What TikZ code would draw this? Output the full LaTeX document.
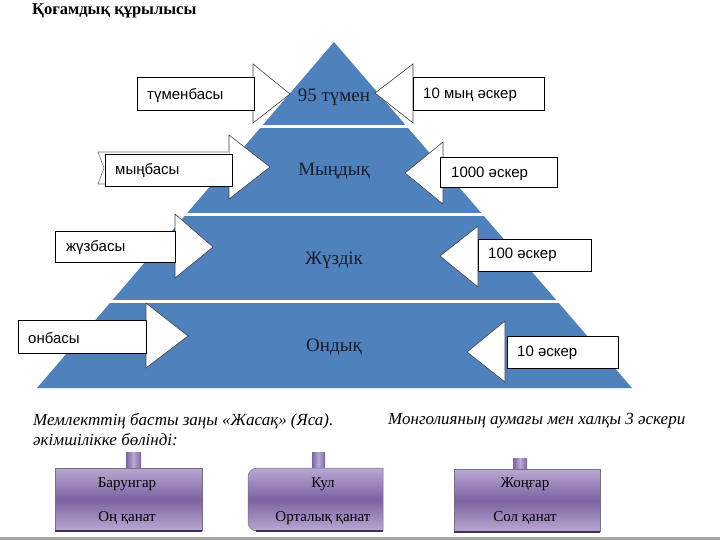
\documentclass[tikz,border=0pt]{standalone}
\usepackage{fontspec}
\setmainfont{Liberation Serif}
\newfontfamily\arialf{Liberation Sans}
\definecolor{pyr}{HTML}{4F81BD}
\definecolor{plight}{HTML}{B9A9D2}
\definecolor{pdark}{HTML}{7D62A2}
\definecolor{pedge}{HTML}{3F3151}
\definecolor{lbl}{HTML}{1C1C28}
\tikzset{
  calloutbox/.style={draw=black, line width=0.7pt, fill=white, inner sep=0pt},
  calltext/.style={anchor=west, inner sep=0pt, yshift=-2pt, font=\arialf\fontsize{15}{17}\selectfont},
  headshape/.style={draw=black!75, line width=0.6pt, fill=white},
  bandlabel/.style={font=\fontsize{19}{21}\selectfont, text=lbl, inner sep=0pt},
  boxtext/.style={font=\fontsize{15}{17}\selectfont, text=black, inner sep=0pt},
  italtext/.style={font=\itshape\fontsize{17}{19}\selectfont, inner sep=0pt, anchor=west},
  purplebox/.style={top color=plight, bottom color=plight, middle color=pdark},
  tabshade/.style={left color=pdark, right color=pdark, middle color=plight}
}
\begin{document}
\begin{tikzpicture}[x=1pt,y=-1pt]
\useasboundingbox (0,0) rectangle (720,540);
\fill[white] (0,0) rectangle (720,540);
% title
\node[font=\bfseries\fontsize{16.5}{19}\selectfont, anchor=west, inner sep=0pt] (title) at (32,11) {Қоғамдық құрылысы};
% pyramid
\fill[pyr] (334,42) -- (632,388) -- (37,388) -- cycle;
\fill[white] (0,125) rectangle (720,128);
\fill[white] (0,213) rectangle (720,216);
\fill[white] (0,300) rectangle (720,303);
\node[bandlabel] (b1) at (334,97) {95 түмен};
\node[bandlabel] (b2) at (334,171) {Мыңдық};
\node[bandlabel] (b3) at (334,260) {Жүздік};
\node[bandlabel] (b4) at (334,347) {Ондық};
% left arrowheads
\draw[headshape] (253,64) -- (290,94) -- (253,123) -- cycle;
\draw[headshape] (229,135) -- (270,167) -- (229,199) -- cycle;
\draw[headshape] (175,214) -- (213,247) -- (175,278) -- cycle;
\draw[headshape] (146,303) -- (188,336) -- (146,368) -- cycle;
% right arrowheads
\draw[headshape] (413,64) -- (375,93) -- (413,123) -- cycle;
\draw[headshape] (443,142) -- (405,173) -- (443,204) -- cycle;
\draw[headshape] (478,226) -- (440,256) -- (478,287) -- cycle;
\draw[headshape] (505,321) -- (467,352) -- (505,382) -- cycle;
% arrow tail behind the second box
\draw[black!55, line width=0.6pt, fill=white] (229,152) -- (98,152) -- (104,168) -- (98,184) -- (229,184);
% left boxes
\node[calloutbox, minimum width=117pt, minimum height=33pt, anchor=north west] (l1) at (137,77) {};
\node[calltext] (l1t) at (147,94) {түменбасы};
\node[calloutbox, minimum width=127pt, minimum height=32pt, anchor=north west] (l2) at (105,154) {};
\node[calltext] (l2t) at (115,168) {мыңбасы};
\node[calloutbox, minimum width=120pt, minimum height=31pt, anchor=north west] (l3) at (55,231) {};
\node[calltext] (l3t) at (66,246) {жүзбасы};
\node[calloutbox, minimum width=128pt, minimum height=33pt, anchor=north west] (l4) at (18,320) {};
\node[calltext] (l4t) at (28,336) {онбасы};
% right boxes
\node[calloutbox, minimum width=131pt, minimum height=33pt, anchor=north west] (r1) at (413,77) {};
\node[calltext] (r1t) at (423,93) {10 мың әскер};
\node[calloutbox, minimum width=117pt, minimum height=30pt, anchor=north west] (r2) at (440,157) {};
\node[calltext] (r2t) at (451,172) {1000 әскер};
\node[calloutbox, minimum width=113pt, minimum height=32pt, anchor=north west] (r3) at (478,239) {};
\node[calltext] (r3t) at (488,253) {100 әскер};
\node[calloutbox, minimum width=111pt, minimum height=32pt, anchor=north west] (r4) at (507,336) {};
\node[calltext] (r4t) at (517,351) {10 әскер};
% italic text
\node[italtext] (t1) at (33,421) {Мемлекттің басты заңы «Жасақ» (Яса).};
\node[italtext] (t2) at (388,421) {Монголияның аумағы мен халқы 3 әскери};
\node[italtext] (t3) at (33,440) {әкімшілікке бөлінді:};
% purple boxes
\shade[tabshade] (126,452) rectangle (141,468);
\shade[tabshade] (312,452) rectangle (325,468);
\shade[tabshade] (513,458) rectangle (527,469);
\shade[purplebox] (55,468) rectangle (202,531);
\draw[pedge!70, line width=0.5pt] (55,531) -- (55,468) -- (202,468) -- (202,531);
\fill[pedge] (55,530) rectangle (202,532);
\shade[purplebox] (383,468) -- (383,531) -- (257,531) to[out=180,in=-90] (248,522) -- (248,477) to[out=90,in=180] (257,468) -- cycle;
\draw[pedge!70, line width=0.5pt] (383,531) -- (383,468) -- (257,468) to[out=180,in=90] (248,477) -- (248,522) to[out=-90,in=180] (257,531);
\fill[pedge] (256,530) rectangle (383,532);
\shade[purplebox] (454,469) rectangle (600,532);
\draw[pedge!70, line width=0.5pt] (454,532) -- (454,469) -- (600,469) -- (600,532);
\fill[pedge] (454,531) rectangle (600,533);
\node[boxtext] (p1a) at (127,484) {Барунгар};
\node[boxtext] (p1b) at (127,518) {Оң қанат};
\node[boxtext] (p2a) at (323,484) {Кул};
\node[boxtext] (p2b) at (323,518) {Орталық қанат};
\node[boxtext] (p3a) at (525,484) {Жоңғар};
\node[boxtext] (p3b) at (525,518) {Сол қанат};
% bottom gray line
\fill[black!35] (0,537) rectangle (720,540);
\end{tikzpicture}
\end{document}
